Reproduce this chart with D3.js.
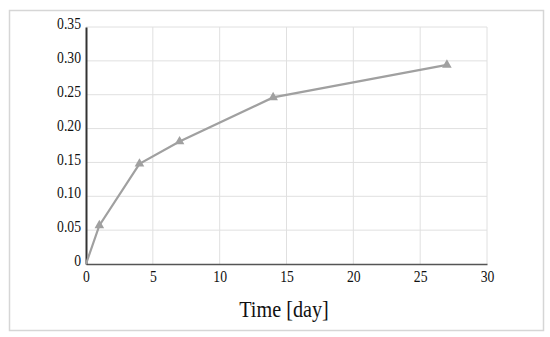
<!DOCTYPE html>
<html>
<head>
<meta charset="utf-8">
<script src="https://cdn.jsdelivr.net/npm/d3@7"></script>
<style>
  body { margin: 0; background: #fff; }
</style>
</head>
<body>
<div id="chart-area"></div>
<script>
var days = [0, 1, 4, 7, 14, 27];
var values = [0, 0.057, 0.148, 0.181, 0.246, 0.294];
var xTicks = [0, 5, 10, 15, 20, 25, 30];
var yTicks = [0, 0.05, 0.10, 0.15, 0.20, 0.25, 0.30, 0.35];

var width = 550, height = 337;
var margin = {left: 86, right: 63, top: 27, bottom: 73};
var serif = "'Liberation Serif', 'Times New Roman', serif";

var svg = d3.select("#chart-area").append("svg")
    .attr("width", width)
    .attr("height", height);

// outer frame
svg.append("rect")
    .attr("x", 9.5).attr("y", 10.5)
    .attr("width", 534).attr("height", 320)
    .attr("fill", "#fff")
    .attr("stroke", "#d6d6d6")
    .attr("stroke-width", 1.5);

var x = d3.scaleLinear()
    .domain([0, 30])
    .range([margin.left, width - margin.right]);

var y = d3.scaleLinear()
    .domain([0, 0.35])
    .range([height - margin.bottom, margin.top]);

// grid
svg.append("g").selectAll("line")
    .data(yTicks.slice(1))
    .enter().append("line")
    .attr("x1", x(0)).attr("x2", x(30))
    .attr("y1", d => y(d)).attr("y2", d => y(d))
    .attr("stroke", "#e0e0e0").attr("stroke-width", 1);

svg.append("g").selectAll("line")
    .data(xTicks.slice(1))
    .enter().append("line")
    .attr("x1", d => x(d)).attr("x2", d => x(d))
    .attr("y1", y(0)).attr("y2", y(0.35))
    .attr("stroke", "#e0e0e0").attr("stroke-width", 1);

// axes (the original type is a bit narrow, so squeeze labels horizontally)
var xAxis = svg.append("g")
    .attr("transform", "translate(0," + y(0) + ")")
    .call(d3.axisBottom(x).tickValues(xTicks).tickSize(0).tickPadding(6).tickFormat(d3.format("d")));
xAxis.attr("font-family", null).attr("font-size", null);
xAxis.select(".domain").attr("stroke", "#555").attr("stroke-width", 1.5);
xAxis.selectAll("text")
    .style("font-family", serif).style("font-size", "16.5px").attr("fill", "#111")
    .attr("transform", "scale(0.83,1)");

var yAxis = svg.append("g")
    .attr("transform", "translate(" + x(0) + ",0)")
    .call(d3.axisLeft(y).tickValues(yTicks).tickSize(0).tickPadding(6)
        .tickFormat(d => d === 0 ? "0" : d3.format(".2f")(d)));
yAxis.attr("font-family", null).attr("font-size", null);
yAxis.select(".domain").attr("stroke", "#333").attr("stroke-width", 2);
yAxis.selectAll("text")
    .style("font-family", serif).style("font-size", "16.5px").attr("fill", "#111")
    .attr("dy", "0.1em")
    .attr("transform", "scale(0.83,1)");

// axis title
svg.append("text")
    .attr("transform", "translate(284,317) scale(0.86,1)")
    .attr("text-anchor", "middle")
    .style("font-family", serif)
    .style("font-size", "23.5px")
    .attr("fill", "#111")
    .text("Time [day]");

// series
var pts = days.map((d, i) => [d, values[i]]);

svg.append("path")
    .datum(pts)
    .attr("fill", "none")
    .attr("stroke", "#a0a0a0")
    .attr("stroke-width", 2.2)
    .attr("d", d3.line().x(d => x(d[0])).y(d => y(d[1])));

svg.selectAll("path.marker")
    .data(pts.slice(1))
    .enter().append("path")
    .attr("class", "marker")
    .attr("transform", d => "translate(" + x(d[0]) + "," + y(d[1]) + ")")
    .attr("d", d3.symbol().type(d3.symbolTriangle).size(40))
    .attr("fill", "#a0a0a0");
</script>
</body>
</html>
